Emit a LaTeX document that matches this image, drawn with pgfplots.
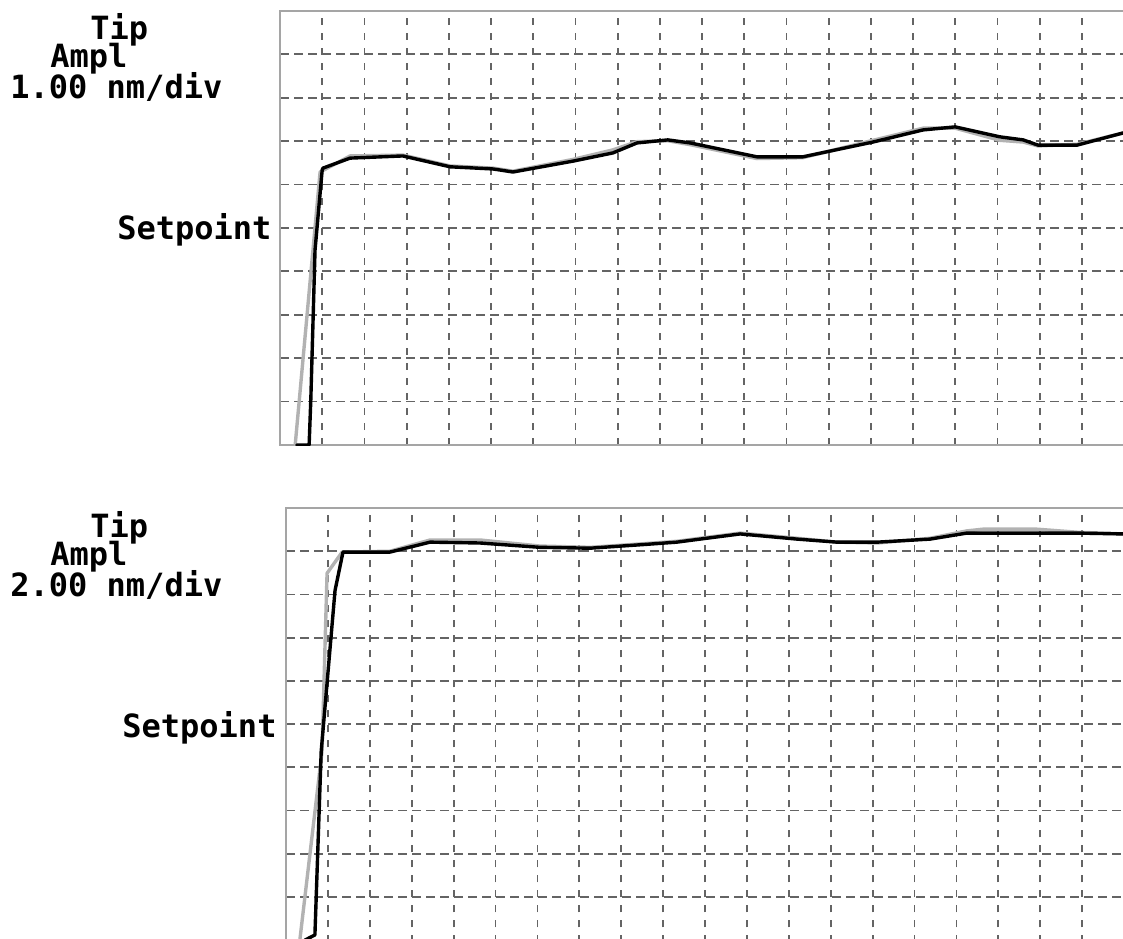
\documentclass[border=0pt]{standalone}
\usepackage{pgfplots}
\pgfplotsset{compat=1.18}
\usepackage{fontspec}
\setmonofont{DejaVu Sans Mono}
\definecolor{gridc}{RGB}{100,100,100}
\definecolor{framec}{RGB}{165,165,165}
\definecolor{tracegray}{RGB}{178,178,178}
\pgfplotsset{
  panel/.style={
    scale only axis,
    xmin=0, xmax=20, ymin=0, ymax=10,
    xtick={1,...,19}, ytick={1,...,9},
    xticklabels={}, yticklabels={},
    major tick length=0pt,
    grid=major,
    x grid style={gridc, line width=0.9pt, dash pattern=on 3.5pt off 4pt},
    y grid style={gridc, line width=0.9pt, dash pattern=on 4.5pt off 2.5pt},
    axis line style={framec, line width=0.8pt},
    clip=true,
  },
  trace/.style={line width=1.7pt, line join=round, line cap=round},
}
\begin{document}
\begin{tikzpicture}
\useasboundingbox (0,0) rectangle (561.5pt,469pt);
% ---------- top panel ----------
\begin{axis}[panel, at={(140pt,246.5pt)}, anchor=south west, width=422pt, height=217pt]
\addplot[trace, tracegray] coordinates {
(0.36,0.00) (0.95,6.29) (1.66,6.66) (2.91,6.68) (4.03,6.43) (5.05,6.38) (5.52,6.31)
(6.94,6.58) (7.89,6.80) (8.46,6.99) (9.19,7.01) (9.72,6.92) (11.30,6.60)
(12.39,6.62) (14.05,7.02) (15.24,7.30) (16.00,7.30) (17.06,7.02) (17.61,6.98)
(17.96,6.89) (18.89,6.93) (19.98,7.19)};
\addplot[trace, black] coordinates {
(0.40,0.00) (0.69,0.00) (0.73,1.04) (0.83,4.49) (1.00,6.34) (1.02,6.38)
(1.66,6.61) (2.91,6.66) (4.03,6.41) (5.05,6.36) (5.52,6.29) (6.94,6.54)
(7.89,6.73) (8.46,6.96) (9.19,7.03) (9.72,6.96) (11.30,6.64) (12.39,6.64)
(14.05,6.98) (15.24,7.26) (16.00,7.33) (17.06,7.10) (17.61,7.03) (17.96,6.91)
(18.89,6.91) (19.98,7.19)};
\end{axis}
% ---------- bottom panel (bottom edge lies just below the page) ----------
\begin{axis}[panel, at={(143pt,-2.15pt)}, anchor=south west, width=419pt, height=217.15pt,
  ymin=-0.05]
\addplot[trace, tracegray] coordinates {
(0.33,0.00) (0.86,4.37) (0.98,8.49) (1.34,8.98) (2.48,9.00) (3.44,9.26)
(4.63,9.26) (6.06,9.12) (7.26,9.09) (8.62,9.18) (9.33,9.23) (9.88,9.30)
(10.84,9.42) (12.20,9.30) (13.15,9.21) (14.11,9.19) (15.37,9.30) (16.25,9.47)
(16.63,9.51) (17.92,9.51) (18.88,9.44) (19.98,9.40)};
\addplot[trace, black] coordinates {
(0.45,0.00) (0.69,0.12) (0.84,4.37) (1.17,8.09) (1.36,8.98) (2.48,8.98)
(3.44,9.21) (4.63,9.19) (6.06,9.09) (7.26,9.07) (8.62,9.16) (9.33,9.21)
(9.88,9.28) (10.84,9.40) (12.20,9.28) (13.15,9.21) (14.11,9.21) (15.37,9.28)
(16.25,9.42) (17.59,9.42) (18.88,9.42) (19.98,9.40)};
\end{axis}
% ---------- labels ----------
\tikzset{lbl/.style={anchor=base west, inner sep=0pt, font=\fontsize{16}{16}\selectfont\ttfamily\bfseries}}
\node[lbl] at (45pt,449pt) {Tip};
\node[lbl] at (25pt,435pt) {Ampl};
\node[lbl] at (5pt,419.5pt) {1.00 nm/div};
\node[lbl] at (58.5pt,349pt) {Setpoint};
\node[lbl] at (45pt,200.5pt) {Tip};
\node[lbl] at (25pt,186.5pt) {Ampl};
\node[lbl] at (5pt,171pt) {2.00 nm/div};
\node[lbl] at (61pt,100.5pt) {Setpoint};
\end{tikzpicture}
\end{document}
